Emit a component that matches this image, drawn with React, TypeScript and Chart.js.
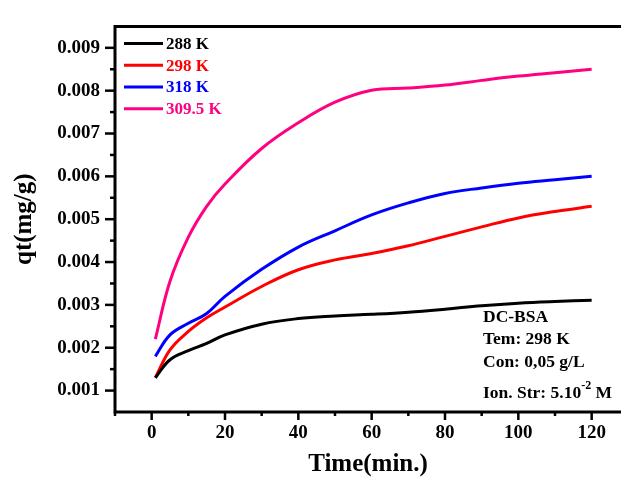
import React, { useEffect, useRef } from "react";
import { Chart, registerables } from "chart.js";

Chart.register(...registerables);

const TIME = [1, 5, 10, 15, 20, 30, 40, 50, 60, 70, 80, 90, 100, 110, 120];
const SERIES_LABELS = ["288 K", "298 K", "318 K", "309.5 K"];
const Q_288 = [0.0013, 0.00172, 0.00193, 0.0021, 0.0023, 0.00255, 0.00268, 0.00274, 0.00278, 0.00283, 0.0029, 0.00298, 0.00304, 0.00308, 0.00311];
const Q_298 = [0.0013, 0.00195, 0.00238, 0.0027, 0.00295, 0.00343, 0.00382, 0.00405, 0.0042, 0.00438, 0.0046, 0.00482, 0.00503, 0.00518, 0.0053];
const Q_318 = [0.0018, 0.0023, 0.00257, 0.0028, 0.0032, 0.00383, 0.00435, 0.00473, 0.0051, 0.00538, 0.0056, 0.00573, 0.00584, 0.00592, 0.006];
const Q_3095 = [0.0022, 0.00355, 0.00458, 0.0053, 0.00582, 0.00665, 0.00725, 0.00773, 0.00801, 0.00806, 0.00813, 0.00824, 0.00834, 0.00842, 0.0085];
const COLORS = ["#000000", "#ff0000", "#0000ff", "#ff0080"];
const X_TICKS = [0, 20, 40, 60, 80, 100, 120];
const X_MINOR = [-10, 10, 30, 50, 70, 90, 110];
const Y_TICKS = [0.001, 0.002, 0.003, 0.004, 0.005, 0.006, 0.007, 0.008, 0.009];
const Y_MINOR = [0.0015, 0.0025, 0.0035, 0.0045, 0.0055, 0.0065, 0.0075, 0.0085];
const NOTES = ["DC-BSA", "Tem: 298 K", "Con: 0,05 g/L"];

const FONT = "'Liberation Serif', 'Times New Roman', serif";

const framePlugin = {
  id: "frame",
  afterDatasetsDraw(chart: any) {
    const { ctx, chartArea } = chart;
    const xs = chart.scales.x;
    const ys = chart.scales.y;
    ctx.save();
    ctx.strokeStyle = "#000";
    ctx.lineWidth = 3;
    ctx.lineCap = "butt";
    ctx.beginPath();
    ctx.moveTo(chartArea.right, chartArea.top);
    ctx.lineTo(chartArea.left, chartArea.top);
    ctx.lineTo(chartArea.left, chartArea.bottom);
    ctx.lineTo(chartArea.right, chartArea.bottom);
    ctx.stroke();
    ctx.lineWidth = 2.5;
    const tick = (x1: number, y1: number, x2: number, y2: number) => {
      ctx.beginPath();
      ctx.moveTo(x1, y1);
      ctx.lineTo(x2, y2);
      ctx.stroke();
    };
    X_TICKS.forEach((v) => {
      const p = xs.getPixelForValue(v);
      tick(p, chartArea.bottom, p, chartArea.bottom + 8);
    });
    X_MINOR.forEach((v) => {
      const p = xs.getPixelForValue(v);
      tick(p, chartArea.bottom, p, chartArea.bottom + 4);
    });
    Y_TICKS.forEach((v) => {
      const p = ys.getPixelForValue(v);
      tick(chartArea.left, p, chartArea.left - 10, p);
    });
    Y_MINOR.forEach((v) => {
      const p = ys.getPixelForValue(v);
      tick(chartArea.left, p, chartArea.left - 5, p);
    });

    // legend
    ctx.textBaseline = "middle";
    ctx.textAlign = "left";
    ctx.font = `bold 17px ${FONT}`;
    chart.data.datasets.forEach((ds: any, i: number) => {
      const y = chartArea.top + 17 + i * 21.8;
      ctx.strokeStyle = ds.borderColor;
      ctx.lineWidth = 3;
      tick(chartArea.left + 9, y, chartArea.left + 48, y);
      ctx.fillStyle = ds.borderColor;
      ctx.fillText(ds.label, chartArea.left + 51, y + 1);
    });

    // notes
    ctx.fillStyle = "#000";
    ctx.font = `bold 17.5px ${FONT}`;
    const nx = 483;
    const ny = [317, 339.5, 362];
    NOTES.forEach((t, i) => ctx.fillText(t, nx, ny[i]));
    const base = "Ion. Str: 5.10";
    ctx.fillText(base, nx, 393);
    const w = ctx.measureText(base).width;
    ctx.font = `bold 12px ${FONT}`;
    ctx.fillText("-2", nx + w, 386);
    const w2 = ctx.measureText("-2").width;
    ctx.font = `bold 17.5px ${FONT}`;
    ctx.fillText(" M", nx + w + w2, 393);
    ctx.restore();
  },
};

export default function App() {
  const ref = useRef<HTMLCanvasElement | null>(null);
  useEffect(() => {
    if (!ref.current) return;
    const all = [Q_288, Q_298, Q_318, Q_3095];
    const chart = new Chart(ref.current, {
      type: "line",
      data: {
        datasets: all.map((arr, i) => ({
          label: SERIES_LABELS[i],
          data: TIME.map((t, j) => ({ x: t, y: arr[j] })),
          borderColor: COLORS[i],
          backgroundColor: COLORS[i],
          borderWidth: 3,
          pointRadius: 0,
          tension: 0.4,
          fill: false,
        })),
      },
      options: {
        animation: false,
        responsive: false,
        layout: { padding: { top: 12, right: 0, left: 0, bottom: 0 } },
        plugins: { legend: { display: false }, tooltip: { enabled: false } },
        scales: {
          x: {
            type: "linear",
            min: -10,
            max: 128,
            grid: { display: false, drawTicks: false },
            border: { display: false },
            afterBuildTicks: (s: any) => {
              s.ticks = X_TICKS.map((v) => ({ value: v }));
            },
            afterFit: (s: any) => {
              s.height = 68;
            },
            ticks: {
              padding: 10,
              color: "#000",
              font: { family: FONT, weight: "bold", size: 19 },
              maxRotation: 0,
              autoSkip: false,
            },
            title: {
              display: true,
              text: "Time(min.)",
              color: "#000",
              font: { family: FONT, weight: "bold", size: 25 },
              padding: { top: 0, bottom: 0 },
            },
          },
          y: {
            type: "linear",
            min: 0.0005,
            max: 0.0095,
            grid: { display: false, drawTicks: false },
            border: { display: false },
            afterBuildTicks: (s: any) => {
              s.ticks = Y_TICKS.map((v) => ({ value: v }));
            },
            afterFit: (s: any) => {
              s.width = 115;
            },
            ticks: {
              padding: 15,
              color: "#000",
              font: { family: FONT, weight: "bold", size: 19 },
              autoSkip: false,
              callback: (v: any) => Number(v).toFixed(3),
            },
            title: {
              display: true,
              text: "qt(mg/g)",
              color: "#000",
              font: { family: FONT, weight: "bold", size: 25 },
              padding: { top: 10, bottom: 0 },
            },
          },
        },
      },
      plugins: [framePlugin],
    });
    return () => chart.destroy();
  }, []);
  return (
    <div style={{ position: "absolute", left: 0, top: 0, width: 621, height: 480, background: "#fff" }}>
      <canvas ref={ref} width={621} height={480} style={{ display: "block" }} />
    </div>
  );
}
